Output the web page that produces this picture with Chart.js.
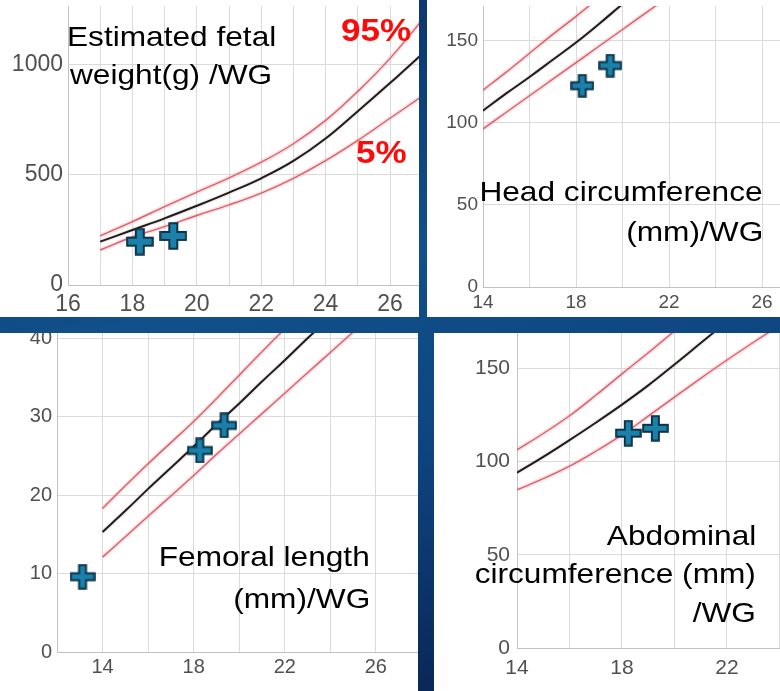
<!DOCTYPE html>
<html>
<head>
<meta charset="utf-8">
<script src="https://cdn.jsdelivr.net/npm/chart.js@4.4.1/dist/chart.umd.min.js"></script>
<style>
  html, body { margin: 0; padding: 0; }
  body {
    width: 780px; height: 691px; overflow: hidden; position: relative;
    background: linear-gradient(165deg, #0a2a62 0%, #11508a 40%, #0e4580 62%, #081c4a 100%);
  }
  .panel { position: absolute; background: #fff; }
  .panel canvas { display: block; }
  .lbl {
    position: absolute; font-family: 'Liberation Sans', Arial, sans-serif;
    font-size: 28px; line-height: 1; white-space: nowrap; color: #000;
    transform: scaleX(1.13);
  }
  .left { transform-origin: left center; }
  .right { transform-origin: right center; }
  .pct { font-size: 31px; font-weight: bold; color: #ff0a0a; }
</style>
</head>
<body>
<div class="panel" style="left:0;top:0;width:419px;height:317px"><canvas id="efw" width="419" height="317"></canvas></div>
<div class="panel" style="left:427px;top:0;width:353px;height:317px"><canvas id="hc" width="353" height="317"></canvas></div>
<div class="panel" style="left:0;top:333px;width:418px;height:358px"><canvas id="fl" width="418" height="358"></canvas></div>
<div class="panel" style="left:434px;top:333px;width:346px;height:358px"><canvas id="ac" width="346" height="358"></canvas></div>

<div class="lbl left" style="left:67px;top:23px">Estimated fetal</div>
<div class="lbl left" style="left:70px;top:61px">weight(g) /WG</div>
<div class="lbl left pct" style="left:341px;top:15px">95%</div>
<div class="lbl left pct" style="left:356px;top:137px">5%</div>

<div class="lbl right" style="right:17px;top:178px">Head circumference</div>
<div class="lbl right" style="right:17px;top:218px">(mm)/WG</div>

<div class="lbl right" style="right:410px;top:543px">Femoral length</div>
<div class="lbl right" style="right:410px;top:585px">(mm)/WG</div>

<div class="lbl right" style="right:24px;top:522px">Abdominal</div>
<div class="lbl right" style="right:24px;top:560px">circumference (mm)</div>
<div class="lbl right" style="right:24px;top:599px">/WG</div>

<script>
// Estimated fetal weight (g) by week of gestation
const efwWeeks = [17, 18, 19, 20, 21, 22, 23, 24, 25, 26, 27, 28];
const efwP95 = [223, 288, 356, 422, 487, 558, 642, 748, 880, 1030, 1205, 1390];
const efwP50 = [197, 250, 303, 360, 420, 485, 564, 666, 790, 918, 1050, 1195];
const efwP5 = [159, 218, 265, 316, 364, 418, 485, 565, 657, 758, 858, 960];
const efwPatientWeeks = [18.23, 19.27];
const efwPatientValues = [197, 223];
const efwXGrid = [16, 17, 18, 19, 20, 21, 22, 23, 24, 25, 26];
const efwXLabels = [16, 18, 20, 22, 24, 26];
const efwYTicks = [0, 500, 1000];

// Head circumference (mm)
const hcWeeks = [14, 15, 16, 17, 18, 19, 20, 21, 22];
const hcP95 = [120, 131, 142.5, 154, 165, 176.5, 188, 199, 210];
const hcP50 = [107.5, 118, 128, 138.5, 149, 160.5, 172.5, 184, 195];
const hcP5 = [96.4, 106.5, 116.6, 126.7, 136.8, 146.9, 157, 167.1, 177.2];
const hcPatientWeeks = [18.27, 19.47];
const hcPatientValues = [122.7, 135];
const hcXGrid = [14, 16, 18, 20, 22, 24, 26];
const hcXLabels = [14, 18, 22, 26];
const hcYTicks = [0, 50, 100, 150];

// Femoral length (mm)
const flWeeks = [14, 15, 16, 17, 18, 19, 20, 21, 22, 23, 24, 25, 26];
const flP95 = [18.3, 21.2, 24.0, 26.7, 29.4, 32.3, 35.3, 38.3, 41.2, 44, 46.8, 49.6, 52.4];
const flP50 = [15.3, 18, 20.8, 23.5, 26.2, 29, 31.7, 34.5, 37.2, 40, 42.7, 45.4, 48.1];
const flP5 = [12.1, 14.7, 17.3, 19.9, 22.5, 25.2, 27.8, 30.4, 33, 35.6, 38.2, 40.8, 43.4];
const flPatientWeeks = [13.12, 18.27, 19.34];
const flPatientValues = [9.6, 25.7, 28.9];
const flXGrid = [12, 14, 16, 18, 20, 22, 24, 26];
const flXLabels = [14, 18, 22, 26];
const flYTicks = [0, 10, 20, 30, 40];

// Abdominal circumference (mm)
const acWeeks = [14, 15, 16, 17, 18, 19, 20, 21, 22, 23, 24];
const acP95 = [106.2, 115, 124.5, 135.5, 147, 158.3, 170, 182, 194, 206, 218];
const acP50 = [94, 102.5, 111.5, 120.8, 130.5, 140.8, 152, 163.5, 175, 186.5, 198];
const acP5 = [84.8, 90.8, 97.5, 105.5, 114.3, 124.3, 134.5, 144.6, 154.4, 163.8, 173];
const acPatientWeeks = [18.24, 19.27];
const acPatientValues = [115.2, 117.8];
const acXGrid = [14, 16, 18, 20, 22, 24];
const acXLabels = [14, 18, 22];
const acYTicks = [0, 50, 100, 150];

const TICK_FONT = "'Liberation Sans', Arial, sans-serif";
const TICK_COLOR = '#505050';
const GRID_COLOR = '#dadada';
const AXIS_COLOR = '#c2c2c2';
const RED = 'rgba(214, 82, 92, 0.9)';
const RED_HALO = 'rgba(240, 160, 170, 0.3)';
const BLACK = '#1c1c1c';
const BLACK_HALO = 'rgba(210, 160, 160, 0.22)';

function curve(weeks, values) {
    return weeks.map((w, i) => ({ x: w, y: values[i] }));
}

// blue "+" marker used for the patient's measurements
function makeCross(size, arm) {
    const c = document.createElement('canvas');
    c.width = size; c.height = size;
    const g = c.getContext('2d');
    const m = size / 2, h = arm / 2, e = 1.2, f = size - 1.2;
    g.beginPath();
    g.moveTo(m - h, e); g.lineTo(m + h, e); g.lineTo(m + h, m - h);
    g.lineTo(f, m - h); g.lineTo(f, m + h); g.lineTo(m + h, m + h);
    g.lineTo(m + h, f); g.lineTo(m - h, f); g.lineTo(m - h, m + h);
    g.lineTo(e, m + h); g.lineTo(e, m - h); g.lineTo(m - h, m - h);
    g.closePath();
    g.fillStyle = '#1b80aa';
    g.fill();
    g.lineWidth = 2;
    g.strokeStyle = '#0b3449';
    g.stroke();
    return c;
}

function lineSet(data, color, width, order) {
    return {
        type: 'line', data, borderColor: color, borderWidth: width,
        pointRadius: 0, fill: false, tension: 0.4, order
    };
}

function buildChart(id, p) {
    const tickFont = { family: TICK_FONT, size: p.fontSize };
    const cross = makeCross(p.crossSize, p.crossArm);
    const datasets = [
        { type: 'scatter', data: curve(p.ptWeeks, p.ptValues), pointStyle: cross, pointRadius: p.crossSize / 2, order: 0 },
        lineSet(curve(p.weeks, p.p95), RED, 1.4, 1),
        lineSet(curve(p.weeks, p.p50), BLACK, 2, 1),
        lineSet(curve(p.weeks, p.p5), RED, 1.4, 1),
        lineSet(curve(p.weeks, p.p95), RED_HALO, 4.5, 2),
        lineSet(curve(p.weeks, p.p50), BLACK_HALO, 4.5, 2),
        lineSet(curve(p.weeks, p.p5), RED_HALO, 4.5, 2)
    ];
    return new Chart(document.getElementById(id), {
        type: 'scatter',
        data: { datasets },
        options: {
            responsive: false,
            animation: false,
            devicePixelRatio: 1,
            // no automatic room for the big markers: the plot area must fill the panel
            layout: { autoPadding: false, padding: { top: p.padTop, left: 0, right: 0, bottom: 0 } },
            plugins: { legend: { display: false }, tooltip: { enabled: false } },
            scales: {
                x: {
                    type: 'linear', min: p.xMin, max: p.xMax,
                    afterBuildTicks: s => { s.ticks = p.xGrid.map(v => ({ value: v })); },
                    afterFit: s => { s.height = p.xAxisH; s.paddingLeft = 0; s.paddingRight = 0; },
                    grid: { color: GRID_COLOR, drawTicks: false },
                    border: { color: AXIS_COLOR },
                    ticks: {
                        autoSkip: false, maxRotation: 0, minRotation: 0,
                        font: tickFont, color: TICK_COLOR, padding: p.xPad,
                        callback: v => p.xLabels.includes(v) ? String(v) : ''
                    }
                },
                y: {
                    type: 'linear', min: 0, max: p.yMax,
                    afterBuildTicks: s => { s.ticks = p.yTicks.map(v => ({ value: v })); },
                    afterFit: s => { s.width = p.yAxisW; s.paddingTop = 0; s.paddingBottom = 0; },
                    grid: { color: GRID_COLOR, drawTicks: false },
                    border: { color: AXIS_COLOR },
                    ticks: {
                        autoSkip: false, font: tickFont, color: TICK_COLOR, padding: p.yPad,
                        callback: v => String(v)
                    }
                }
            }
        }
    });
}

buildChart('efw', {
    weeks: efwWeeks, p95: efwP95, p50: efwP50, p5: efwP5,
    ptWeeks: efwPatientWeeks, ptValues: efwPatientValues,
    xGrid: efwXGrid, xLabels: efwXLabels, yTicks: efwYTicks,
    xMin: 16, xMax: 26.9, yMax: 1268,
    padTop: 6, yAxisW: 68, xAxisH: 32, xPad: 6, yPad: 5,
    fontSize: 23, crossSize: 28, crossArm: 8
});

buildChart('hc', {
    weeks: hcWeeks, p95: hcP95, p50: hcP50, p5: hcP5,
    ptWeeks: hcPatientWeeks, ptValues: hcPatientValues,
    xGrid: hcXGrid, xLabels: hcXLabels, yTicks: hcYTicks,
    xMin: 14, xMax: 26.77, yMax: 171.3,
    padTop: 6, yAxisW: 56, xAxisH: 30, xPad: 4, yPad: 5,
    fontSize: 19, crossSize: 24, crossArm: 7
});

buildChart('fl', {
    weeks: flWeeks, p95: flP95, p50: flP50, p5: flP5,
    ptWeeks: flPatientWeeks, ptValues: flPatientValues,
    xGrid: flXGrid, xLabels: flXLabels, yTicks: flYTicks,
    xMin: 12, xMax: 27.85, yMax: 40.68,
    padTop: 0, yAxisW: 57, xAxisH: 39, xPad: 3, yPad: 5,
    fontSize: 20, crossSize: 26, crossArm: 7
});

buildChart('ac', {
    weeks: acWeeks, p95: acP95, p50: acP50, p5: acP5,
    ptWeeks: acPatientWeeks, ptValues: acPatientValues,
    xGrid: acXGrid, xLabels: acXLabels, yTicks: acYTicks,
    xMin: 14, xMax: 24.02, yMax: 168.9,
    padTop: 0, yAxisW: 83, xAxisH: 43, xPad: 8, yPad: 7,
    fontSize: 21, crossSize: 27, crossArm: 7
});
</script>
</body>
</html>
